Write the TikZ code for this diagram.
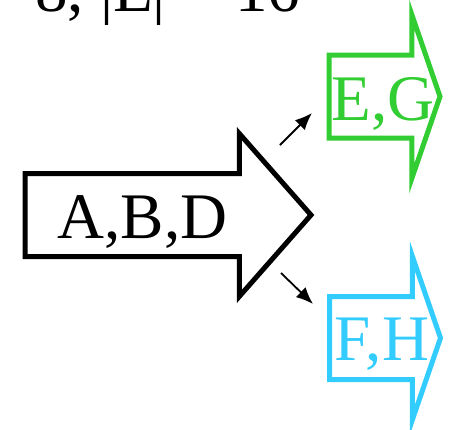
\documentclass[tikz,border=0pt]{standalone}
\usepackage{fontspec}
\setmainfont{Liberation Serif}
\usepackage{tikz}
\usetikzlibrary{shapes.arrows, arrows.meta, positioning}

\definecolor{setgreen}{RGB}{50,205,50}
\definecolor{setblue}{RGB}{51,204,255}

\begin{document}
\begin{tikzpicture}[
  x=1pt, y=-1pt,
  bigarrow/.style={single arrow, draw, line width=5pt, outer sep=0pt, inner xsep=0pt, inner ysep=39pt, anchor=tail, minimum width=1pt},
  mainarrow/.style={bigarrow, minimum height=286pt, single arrow head extend=40pt, single arrow tip angle=97.3},
  subarrow/.style={bigarrow, minimum height=111pt, single arrow head extend=40pt, single arrow tip angle=142},
  setlabel/.style={anchor=base, inner sep=0pt, font=\fontsize{65}{78}\selectfont},
  conn/.style={-{Latex[length=17pt, width=14pt]}, line width=1.8pt}
]
  \useasboundingbox (0,0) rectangle (454,429);
  \clip (0,0) rectangle (454,429);

  \node[anchor=base west, inner sep=0pt, font=\fontsize{65}{78}\selectfont] (size) at (35,11) {8, |E| = 16};

  \node[mainarrow] (abd) at (25,215) {};
  \node[subarrow, draw=setgreen] (eg) at (329,96.5) {};
  \node[subarrow, draw=setblue] (fh) at (329.5,338) {};

  \node[setlabel] (abdtext) at (142.5,238) {A,B,D};
  \node[setlabel, text=setgreen] (egtext) at (383,120) {E,G};
  \node[setlabel, text=setblue] (fhtext) at (382,360) {F,H};

  \coordinate (up0) at (280,145);
  \coordinate (up1) at (312,113);
  \coordinate (dn0) at (281,273);
  \coordinate (dn1) at (313,304);
  \draw[conn] (up0) -- (up1);
  \draw[conn] (dn0) -- (dn1);
\end{tikzpicture}
\end{document}
